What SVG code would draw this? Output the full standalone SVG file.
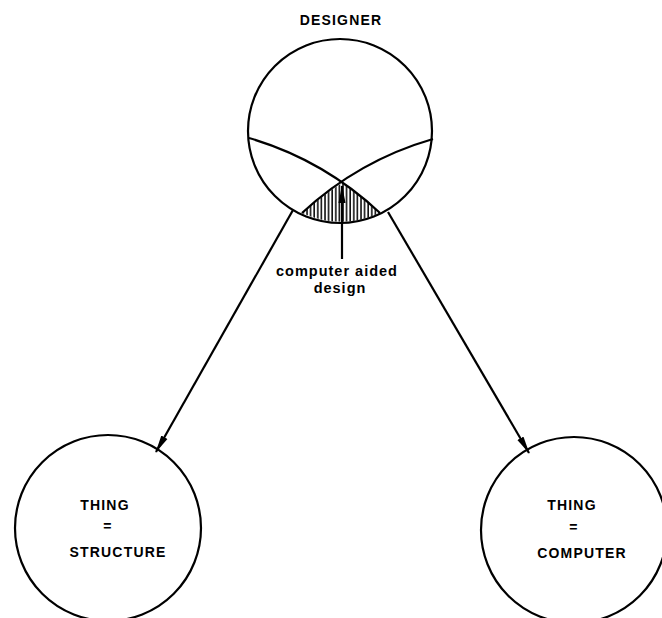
<svg xmlns="http://www.w3.org/2000/svg" width="662" height="618" viewBox="0 0 662 618">
<style>
.ln{fill:none;stroke:#000;stroke-width:2.2}
.cap{font-family:"Liberation Sans",Arial,sans-serif;font-weight:bold;font-size:14px;letter-spacing:1.2px;fill:#000;text-anchor:middle}
.lab{font-family:"Liberation Sans",Arial,sans-serif;font-weight:bold;font-size:14.5px;letter-spacing:1px;fill:#000;text-anchor:middle}
</style>
<defs>
<marker id="ah" viewBox="0 0 18 8" refX="17" refY="4" markerWidth="18" markerHeight="8" markerUnits="userSpaceOnUse" orient="auto">
<path d="M0,0.5 L18,4 L0,7.5 Z" fill="#000"/>
</marker>
<pattern id="hatch" width="3.6" height="10" patternUnits="userSpaceOnUse">
<line x1="1" y1="0" x2="1" y2="10" stroke="#000" stroke-width="1.5"/>
</pattern>
<clipPath id="cadclip">
<path d="M302,213 A324.5,324.5 0 0 1 342,183 A324.5,324.5 0 0 1 380,213 A92,92 0 0 1 302,213 Z"/>
</clipPath>
</defs>
<rect width="662" height="618" fill="#fff"/>
<g id="designer">
<circle class="ln" cx="340" cy="131" r="92"/>
<text class="cap" x="341" y="25">DESIGNER</text>
<path class="ln" d="M249,138 A324.5,324.5 0 0 1 380,213"/>
<path class="ln" d="M433,139 A324.5,324.5 0 0 0 302,213"/>
<rect x="295" y="178" width="90" height="50" fill="url(#hatch)" clip-path="url(#cadclip)"/>
</g>
<g id="cad-label">
<text class="lab" x="337" y="276">computer aided</text>
<text class="lab" x="340" y="293">design</text>
</g>
<g id="structure">
<circle class="ln" cx="108" cy="528" r="93"/>
<text class="cap" x="105" y="510">THING</text>
<text class="cap" x="108" y="531">=</text>
<text class="cap" x="118" y="557">STRUCTURE</text>
</g>
<g id="computer">
<circle class="ln" cx="574" cy="530" r="93"/>
<text class="cap" x="572" y="510">THING</text>
<text class="cap" x="574" y="532">=</text>
<text class="cap" x="582" y="558">COMPUTER</text>
</g>
<g id="connectors">
<line class="ln" stroke-width="1.7" x1="293" y1="210" x2="156" y2="452" marker-end="url(#ah)"/>
<line class="ln" stroke-width="1.7" x1="388" y1="212" x2="529" y2="453" marker-end="url(#ah)"/>
<line class="ln" stroke-width="1.9" x1="342" y1="259" x2="342" y2="186" marker-end="url(#ah)"/>
</g>
</svg>
